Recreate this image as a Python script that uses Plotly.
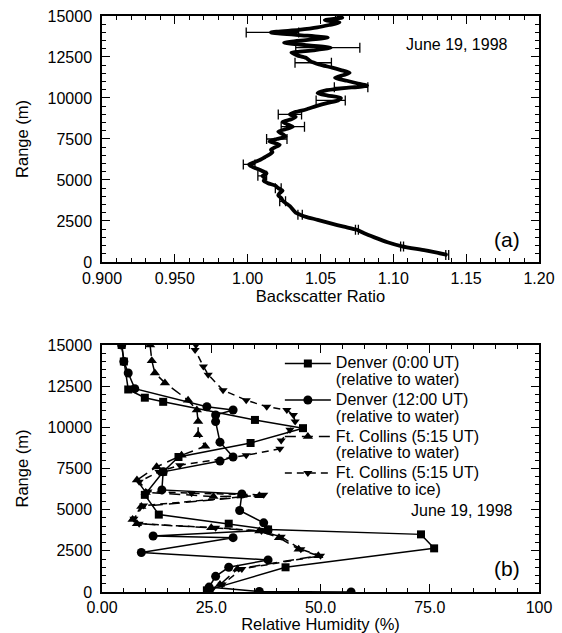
import plotly.graph_objects as go

# ---------------- Panel (a): backscatter ratio profile ----------------
bs_range = [430, 700, 950, 1200, 1500, 1750, 1960, 2150, 2350, 2570, 2750, 2880, 3000, 3200,
            3400, 3600, 3750, 3900, 4050, 4200, 4350, 4500, 4650, 4800, 4950, 5100, 5250, 5400,
            5550, 5700, 5850, 5950, 6100, 6250, 6400, 6550, 6700, 6850, 7000, 7150, 7350, 7500,
            7650, 7800, 7950, 8100, 8250, 8400, 8550, 8700, 8850, 9000, 9150, 9300, 9500, 9700,
            9850, 10000, 10150, 10300, 10450, 10600, 10750, 10900, 11050, 11230, 11400, 11540,
            11700, 11850, 12050, 12250, 12450, 12600, 12760, 12900, 13070, 13220, 13374, 13530,
            13680, 13840, 14000, 14150, 14300, 14450, 14600, 14750, 14900, 15000]
bs_ratio = [1.137, 1.122, 1.106, 1.096, 1.087, 1.080, 1.075, 1.066, 1.057, 1.048, 1.040, 1.036,
            1.033, 1.031, 1.029, 1.026, 1.024, 1.023, 1.021, 1.022, 1.024, 1.021, 1.019, 1.014,
            1.011, 1.012, 1.010, 1.013, 1.010, 1.006, 1.002, 1.001, 1.005, 1.009, 1.012, 1.015,
            1.017, 1.016, 1.019, 1.022, 1.015, 1.020, 1.026, 1.024, 1.021, 1.026, 1.031, 1.027,
            1.024, 1.030, 1.033, 1.029, 1.033, 1.040, 1.047, 1.055, 1.062, 1.064, 1.055, 1.048,
            1.053, 1.066, 1.082, 1.075, 1.068, 1.060, 1.066, 1.070, 1.064, 1.058, 1.049, 1.043,
            1.040, 1.034, 1.030, 1.045, 1.057, 1.040, 1.025, 1.040, 1.055, 1.035, 1.016, 1.035,
            1.048, 1.056, 1.063, 1.053, 1.065, 1.061]

err_range = [430, 950, 1960, 2880, 3700, 4500, 5250, 5950, 7500, 8250, 9000, 9850, 10650,
             12150, 13070, 14000]
err_ratio = [1.137, 1.106, 1.075, 1.036, 1.024, 1.021, 1.010, 1.001, 1.020, 1.031, 1.029,
             1.057, 1.071, 1.045, 1.055, 1.017]
err_size = [0.001, 0.001, 0.001, 0.0015, 0.002, 0.002, 0.003, 0.004, 0.007, 0.008, 0.008,
            0.010, 0.0115, 0.0125, 0.022, 0.018]

a_xticks = [0.90, 0.95, 1.00, 1.05, 1.10, 1.15, 1.20]
a_xticktext = ["0.900", "0.950", "1.00", "1.05", "1.10", "1.15", "1.20"]

# ---------------- Panel (b): relative humidity profiles ----------------
d00_rh = [4.5, 5.0, 6.0, 9.8, 14.0, 35.0, 46.0, 34.0, 17.5, 14.0, 9.8, 13.0, 29.0, 38.0,
          73.0, 76.0, 42.0, 24.0]
d00_rng = [15000, 14000, 12300, 11800, 11550, 10450, 9950, 9050, 8200, 7300, 5900, 4700,
           4150, 3800, 3500, 2650, 1500, 100]

d12_rh = [4.5, 5.0, 6.0, 7.5, 24.0, 30.0, 26.0, 26.0, 27.0, 30.0, 27.0, 14.0, 13.7, 32.0,
          31.5, 37.0, 38.0, 11.7, 30.0, 9.0, 38.0, 29.0, 26.0, 24.5, 36.0, 57.0]
d12_rng = [15000, 14000, 13300, 12350, 11250, 11050, 10750, 10350, 9100, 8200, 7950, 7300,
           6200, 5950, 4950, 4200, 3760, 3400, 3300, 2400, 1950, 1500, 950, 300, 30, 0]

fcw_rh = [11.0, 11.4, 12.1, 14.4, 19.7, 21.7, 22.0, 22.0, 23.6, 18.2, 12.5, 8.0, 10.0, 25.5,
          36.0, 9.0, 7.0, 8.0, 25.0, 36.0, 40.5, 45.0, 49.5, 31.0, 27.0, 24.5]
fcw_rng = [15000, 14050, 13300, 12700, 11650, 11050, 10350, 9550, 8850, 8300, 7600, 6800,
           6050, 5800, 5850, 5200, 4400, 4150, 3900, 3700, 3300, 2600, 2200, 1400, 450, 100]

fci_rh = [21.5, 21.3, 23.2, 24.3, 27.7, 33.0, 37.7, 42.3, 43.8, 44.2, 43.0, 41.0, 40.7, 33.0,
          17.8, 13.0, 8.5, 10.5, 20.5, 37.0, 9.5, 7.3, 8.5, 26.0, 36.5, 41.0, 45.5, 50.0,
          32.0, 27.5, 25.0]
fci_rng = [15000, 14700, 13700, 13200, 12250, 11650, 11250, 11050, 10750, 10350, 9850, 9200,
           8700, 8300, 7700, 7300, 6700, 6100, 6000, 5900, 5250, 4450, 4150, 3900, 3700, 3350,
           2600, 2200, 1400, 450, 100]

b_xticks = [0, 25, 50, 75, 100]
b_xticktext = ["0.00", "25.0", "50.0", "75.0", "100"]

series_names = [("Denver (0:00 UT)", "(relative to water)"),
                ("Denver (12:00 UT)", "(relative to water)"),
                ("Ft. Collins (5:15 UT)", "(relative to water)"),
                ("Ft. Collins (5:15 UT)", "(relative to ice)")]


def legend_name(pair):
    return "<br>".join('<span style="font-size:16px">%s</span>' % s for s in pair)


FONT = "Liberation Sans, Arial, Helvetica, sans-serif"

fig = go.Figure()

fig.add_trace(go.Scatter(x=bs_ratio, y=bs_range, mode="lines",
                         line=dict(color="black", width=3.8, shape="spline", smoothing=0.6),
                         showlegend=False, xaxis="x", yaxis="y"))
fig.add_trace(go.Scatter(x=err_ratio, y=err_range, mode="markers",
                         marker=dict(size=2, color="black", opacity=0),
                         error_x=dict(type="data", array=err_size, color="black",
                                      thickness=1.3, width=5),
                         showlegend=False, xaxis="x", yaxis="y"))

fig.add_trace(go.Scatter(x=d00_rh, y=d00_rng, mode="lines+markers",
                         name=legend_name(series_names[0]),
                         line=dict(color="black", width=1.5),
                         marker=dict(symbol="square", size=8, color="black"),
                         xaxis="x2", yaxis="y2"))
fig.add_trace(go.Scatter(x=d12_rh, y=d12_rng, mode="lines+markers",
                         name=legend_name(series_names[1]),
                         line=dict(color="black", width=1.5),
                         marker=dict(symbol="circle", size=9, color="black"),
                         xaxis="x2", yaxis="y2"))
fig.add_trace(go.Scatter(x=fcw_rh, y=fcw_rng, mode="lines+markers",
                         name=legend_name(series_names[2]),
                         line=dict(color="black", width=1.5, dash="11px,6px"),
                         marker=dict(symbol="triangle-up", size=9, color="black"),
                         xaxis="x2", yaxis="y2"))
fig.add_trace(go.Scatter(x=fci_rh, y=fci_rng, mode="lines+markers",
                         name=legend_name(series_names[3]),
                         line=dict(color="black", width=1.5, dash="7px,5px"),
                         marker=dict(symbol="triangle-down", size=8, color="black"),
                         xaxis="x2", yaxis="y2"))

common = dict(showline=True, linecolor="black", linewidth=1.5, mirror="allticks",
              ticks="inside", ticklen=8, tickwidth=1.2, tickcolor="black",
              showgrid=False, zeroline=False, automargin=False,
              tickfont=dict(size=16, color="black", family=FONT))

yt = [0, 2500, 5000, 7500, 10000, 12500, 15000]
TITLE_FONT = dict(size=16.5, family=FONT, color="black")

fig.update_layout(
    width=562, height=633,
    margin=dict(l=102, r=23, t=16, b=41, autoexpand=False),
    paper_bgcolor="white", plot_bgcolor="white",
    font=dict(family=FONT, size=16, color="black"),
    xaxis=dict(common, domain=[0, 1], anchor="y", range=[0.9, 1.2],
               tickvals=a_xticks, ticktext=a_xticktext, ticklabelstandoff=1,
               minor=dict(ticks="inside", ticklen=4, dtick=0.01, tickcolor="black", tickwidth=1),
               title=dict(text="Backscatter Ratio", standoff=1, font=TITLE_FONT)),
    yaxis=dict(common, domain=[0.573, 1], anchor="x", range=[0, 15000],
               tickvals=yt, tickformat="d", ticklabelstandoff=5,
               minor=dict(ticks="inside", ticklen=4, dtick=500, tickcolor="black", tickwidth=1),
               title=dict(text="Range (m)", standoff=15, font=TITLE_FONT)),
    xaxis2=dict(common, domain=[0, 1], anchor="y2", range=[0, 100],
                tickvals=b_xticks, ticktext=b_xticktext, ticklabelstandoff=0,
                minor=dict(ticks="inside", ticklen=4, dtick=5, tickcolor="black", tickwidth=1),
                title=dict(text="Relative Humidity (%)", standoff=1, font=TITLE_FONT)),
    yaxis2=dict(common, domain=[0, 0.4288], anchor="x2", range=[0, 15000],
                tickvals=yt, tickformat="d", ticklabelstandoff=5,
                minor=dict(ticks="inside", ticklen=4, dtick=500, tickcolor="black", tickwidth=1),
                title=dict(text="Range (m)", standoff=15, font=TITLE_FONT)),
    legend=dict(x=0.407, y=0.4227, xanchor="left", yanchor="top",
                bgcolor="rgba(0,0,0,0)", borderwidth=0, valign="top",
                font=dict(size=12.9, family=FONT), itemwidth=46, tracegroupgap=0),
    annotations=[
        dict(text="June 19, 1998", x=1.1436, y=13270, xref="x", yref="y",
             showarrow=False, font=dict(size=16)),
        dict(text="(a)", x=1.178, y=1345, xref="x", yref="y",
             showarrow=False, font=dict(size=21)),
        dict(text="June 19, 1998", x=94.5, y=4980, xref="x2", yref="y2", xanchor="right",
             showarrow=False, font=dict(size=16)),
        dict(text="(b)", x=92.6, y=1457, xref="x2", yref="y2",
             showarrow=False, font=dict(size=21)),
    ],
)

fig.write_html("out.html")
